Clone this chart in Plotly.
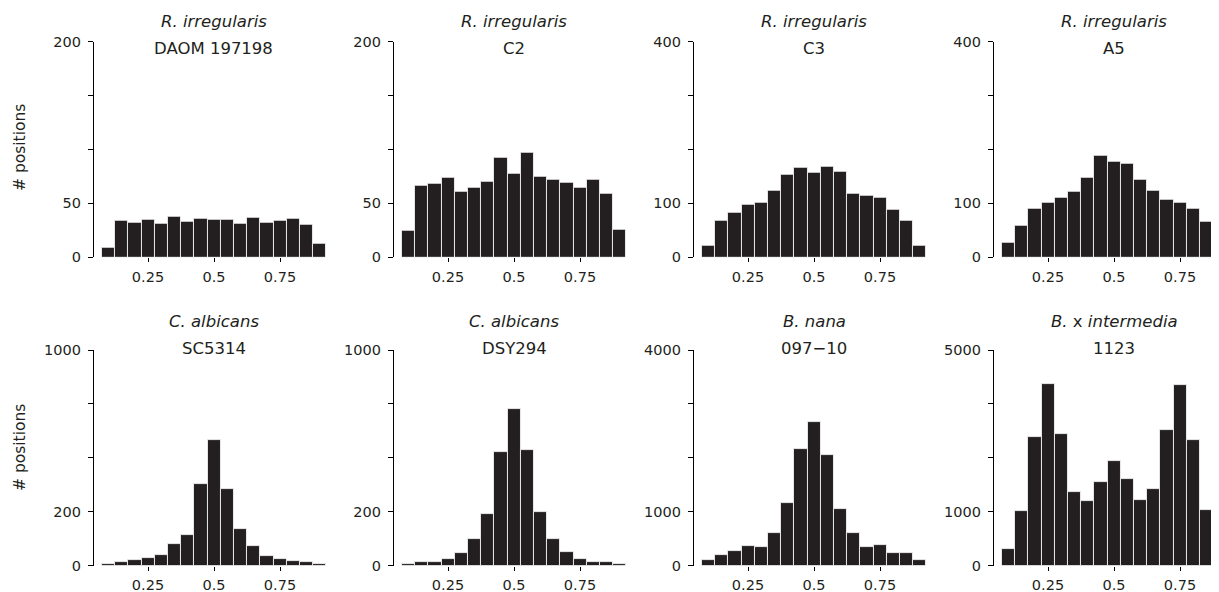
import plotly.graph_objects as go

# ---------------- data ----------------
bin_centers = [0.10, 0.15, 0.20, 0.25, 0.30, 0.35, 0.40, 0.45, 0.50,
               0.55, 0.60, 0.65, 0.70, 0.75, 0.80, 0.85, 0.90]

species_html = ["<i>R. irregularis</i>", "<i>R. irregularis</i>", "<i>R. irregularis</i>",
                "<i>R. irregularis</i>", "<i>C. albicans</i>", "<i>C. albicans</i>",
                "<i>B. nana</i>", "<i>B.</i> x <i>intermedia</i>"]
strains = ["DAOM 197198", "C2", "C3", "A5", "SC5314", "DSY294", "097\u221210", "1123"]

y_top = [200, 200, 400, 400, 1000, 1000, 4000, 5000]
y_mid_label = ["50", "50", "100", "100", "200", "200", "1000", "1000"]

daom_197198 = [9, 34, 32, 35, 31, 38, 33, 36, 35, 35, 31, 37, 32, 34, 36, 30, 13]
c2 = [25, 66, 68, 74, 61, 65, 70, 92, 78, 97, 75, 72, 69, 65, 72, 59, 26]
c3 = [22, 68, 83, 97, 102, 123, 154, 166, 157, 168, 159, 118, 114, 110, 89, 68, 21]
a5 = [28, 58, 90, 102, 110, 121, 148, 189, 177, 174, 144, 123, 107, 102, 90, 66, 25]
sc5314 = [6, 15, 28, 34, 48, 99, 144, 377, 581, 357, 172, 90, 46, 32, 21, 17, 8]
dsy294 = [6, 17, 17, 31, 61, 122, 242, 526, 728, 538, 251, 122, 64, 33, 19, 15, 7]
bnana_097_10 = [111, 204, 266, 371, 340, 600, 1162, 2158, 2665, 2053, 1045, 600, 346, 389, 229, 229, 105]
bxint_1123 = [379, 1275, 2983, 4204, 3053, 1716, 1491, 1932, 2427, 2001, 1515, 1770, 3153, 4196, 2906, 1283, 340]

panel_counts = [daom_197198, c2, c3, a5, sc5314, dsy294, bnana_097_10, bxint_1123]
x_ticks = [0.25, 0.5, 0.75]
x_tick_text = ["0.25", "0.5", "0.75"]

# ---------------- layout geometry ----------------
# The page body has an 8px margin, so the figure is sized to fill the rest of the window.
W, H = 1211, 584
BAR_COLOR = "#231f20"
TEXT_COLOR = "#231f20"
FONT = "DejaVu Sans, Liberation Sans, Arial, sans-serif"

px_per_unit = 264.0
x0_px = [74, 374, 674, 974]
x_start = 0.045
row_top_px = [33.7, 342.0]
row_base_px = [249.3, 557.7]

fig = go.Figure()
annotations = []

for i in range(8):
    r, c = divmod(i, 4)
    idx = i + 1
    xa = "x" if idx == 1 else f"x{idx}"
    ya = "y" if idx == 1 else f"y{idx}"
    xkey = "xaxis" if idx == 1 else f"xaxis{idx}"
    ykey = "yaxis" if idx == 1 else f"yaxis{idx}"

    left_px = x0_px[c] + x_start * px_per_unit
    right_px = min(x0_px[c] + 0.93 * px_per_unit, W)
    x_end = (right_px - x0_px[c]) / px_per_unit

    fig.add_trace(go.Bar(
        x=bin_centers, y=panel_counts[i], width=0.05,
        marker=dict(color=BAR_COLOR, line=dict(color="#ffffff", width=0.8)),
        xaxis=xa, yaxis=ya, showlegend=False, hoverinfo="x+y",
    ))

    fig.layout[xkey] = dict(
        domain=[left_px / W, right_px / W], range=[x_start, x_end],
        anchor=ya, showline=False, showgrid=False, zeroline=False,
        tickvals=x_ticks, ticktext=x_tick_text,
        ticks="outside", ticklen=4, tickwidth=1, tickcolor="#000000",
        ticklabelstandoff=2, automargin=False,
        tickfont=dict(family=FONT, size=14.5, color=TEXT_COLOR),
    )
    top = y_top[i]
    fig.layout[ykey] = dict(
        domain=[(H - row_base_px[r]) / H, (H - row_top_px[r]) / H],
        range=[0, top], anchor=xa, automargin=False,
        showline=True, linecolor="#000000", linewidth=1,
        showgrid=False, zeroline=False,
        ticks="outside", ticklen=5, tickwidth=1, tickcolor="#000000",
        tickvals=[0, top / 4, top / 2, 3 * top / 4, top],
        ticktext=["0", y_mid_label[i], "", "", str(top)],
        ticklabelstandoff=4,
        tickfont=dict(family=FONT, size=14.5, color=TEXT_COLOR),
    )

    cx = (x0_px[c] + 0.5 * px_per_unit) / W
    annotations.append(dict(
        text=species_html[i], x=cx, y=(H - (13 + 300 * r)) / H,
        xref="paper", yref="paper", xanchor="center", yanchor="middle",
        showarrow=False, font=dict(family=FONT, size=16.5, color=TEXT_COLOR)))
    annotations.append(dict(
        text=strains[i], x=cx, y=(H - (40 + 300 * r)) / H,
        xref="paper", yref="paper", xanchor="center", yanchor="middle",
        showarrow=False, font=dict(family=FONT, size=16.5, color=TEXT_COLOR)))

for r in range(2):
    annotations.append(dict(
        text="# positions", x=12 / W, y=(H - (140 + 300 * r)) / H,
        xref="paper", yref="paper", xanchor="center", yanchor="middle",
        textangle=-90, showarrow=False,
        font=dict(family=FONT, size=15.5, color=TEXT_COLOR)))

fig.update_layout(
    width=W, height=H, margin=dict(l=0, r=0, t=0, b=0, autoexpand=False),
    paper_bgcolor="white", plot_bgcolor="white",
    bargap=0, annotations=annotations,
)

fig.write_html("out.html")
